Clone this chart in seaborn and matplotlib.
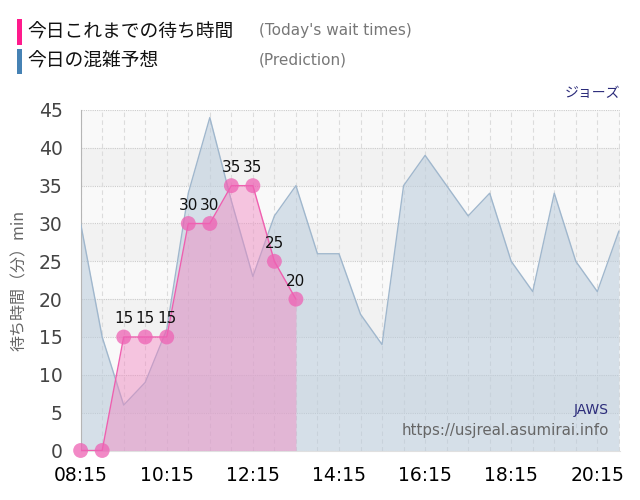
import numpy as np
import matplotlib.pyplot as plt
import seaborn as sns
from matplotlib.patches import Rectangle

# prediction (every 30 min from 08:15 to 20:45)
pred_times = ['08:15', '08:45', '09:15', '09:45', '10:15', '10:45', '11:15', '11:45',
              '12:15', '12:45', '13:15', '13:45', '14:15', '14:45', '15:15', '15:45',
              '16:15', '16:45', '17:15', '17:45', '18:15', '18:45', '19:15', '19:45',
              '20:15', '20:45']
pred_values = [30, 15, 6, 9, 16, 34, 44, 33, 23, 31, 35, 26, 26, 18, 14, 35,
               39, 35, 31, 34, 25, 21, 34, 25, 21, 29]

# today's actual wait times
wait_times = ['08:15', '08:45', '09:15', '09:45', '10:15', '10:45', '11:15',
              '11:45', '12:15', '12:45', '13:15']
wait_values = [0, 0, 15, 15, 15, 30, 30, 35, 35, 25, 20]

tick_labels = ['08:15', '10:15', '12:15', '14:15', '16:15', '18:15', '20:15']
y_ticks = [0, 5, 10, 15, 20, 25, 30, 35, 40, 45]


def to_hours(s):
    h, m = s.split(':')
    return int(h) + int(m) / 60


px = np.array([to_hours(t) for t in pred_times])
wx = np.array([to_hours(t) for t in wait_times])
tx = [to_hours(t) for t in tick_labels]

sns.set_style('white')
plt.rcParams['font.family'] = ['DejaVu Sans', 'Noto Sans CJK JP']
jp = ['Noto Sans CJK JP', 'DejaVu Sans']

fig = plt.figure(figsize=(6.4, 5.0), dpi=100)
ax = fig.add_axes([0.126, 0.099, 0.843, 0.681])

# alternating background bands
for lo in range(0, 45, 5):
    band = '#f9f9f9' if (lo // 5) % 2 == 0 else '#f2f2f2'
    ax.axhspan(lo, lo + 5, color=band, zorder=0, lw=0)

# grid
for v in y_ticks:
    ax.axhline(v, color='#cccccc', lw=0.8, ls=(0, (1, 1)), zorder=1)
for h in np.arange(8.25, 20.8, 0.5):
    ax.axvline(h, color='#dcdcdc', lw=0.8, ls=(0, (4, 3)), zorder=1)

# prediction area
ax.fill_between(px, pred_values, 0, color='#b9cbdb', alpha=0.55, lw=0, zorder=2)
sns.lineplot(x=px, y=pred_values, color='#a0b7cd', lw=1.0, ax=ax, zorder=3)

# actual wait times
ax.fill_between(wx, wait_values, 0, color='#f285c0', alpha=0.45, lw=0, zorder=4)
sns.lineplot(x=wx, y=wait_values, color='#ef5faf', lw=1.0, ax=ax, zorder=5)
sns.scatterplot(x=wx, y=wait_values, color='#ee62b4', alpha=0.75, s=115,
                edgecolor='none', ax=ax, zorder=6, clip_on=False)
for x, v in zip(wx, wait_values):
    if v > 0:
        ax.text(x, v + 2.4, str(v), ha='center', va='center', fontsize=11,
                color='#111111', zorder=7)

ax.set_xlim(8.25, 20.78)
ax.set_ylim(0, 45)
ax.set_xticks(tx)
ax.set_xticklabels(tick_labels, fontsize=13.5, color='black')
ax.set_yticks(y_ticks)
ax.set_yticklabels([str(v) for v in y_ticks], fontsize=13.5, color='#444444')
ax.tick_params(axis='y', length=11, color='#dddddd', width=1, pad=2)
ax.tick_params(axis='x', length=10, color='#dddddd', width=1, pad=1)
for side in ['top', 'right']:
    ax.spines[side].set_visible(False)
ax.spines['left'].set_color('#b5b5b5')
ax.spines['bottom'].set_color('#e0e0e0')
ax.set_xlabel('')
ax.set_ylabel('')

fig.text(19 / 640, 1 - 280 / 500, '待ち時間（分）min', rotation=90, ha='center',
         va='center', fontsize=11.5, color='#666666', family=jp)

# header legend
fig.add_artist(Rectangle((17 / 640, 1 - 45 / 500), 5 / 640, 26 / 500,
                         transform=fig.transFigure, color='#ff1a8c', lw=0))
fig.add_artist(Rectangle((17 / 640, 1 - 74 / 500), 5 / 640, 25 / 500,
                         transform=fig.transFigure, color='#4682b4', lw=0))
fig.text(27 / 640, 1 - 32 / 500, '今日これまでの待ち時間', fontsize=13.5, va='center',
         color='#111111', family=jp)
fig.text(27 / 640, 1 - 61 / 500, '今日の混雑予想', fontsize=13.5, va='center',
         color='#111111', family=jp)
fig.text(259 / 640, 1 - 31 / 500, "(Today's wait times)", fontsize=11, va='center',
         color='#777777')
fig.text(259 / 640, 1 - 60 / 500, '(Prediction)', fontsize=11, va='center',
         color='#777777')

fig.text(620 / 640, 1 - 93 / 500, 'ジョーズ', fontsize=10, ha='right', va='center',
         color='#2b2b7a', family=jp)
fig.text(609 / 640, 1 - 410 / 500, 'JAWS', fontsize=10, ha='right', va='center',
         color='#2b2b7a')
fig.text(609 / 640, 1 - 431 / 500, 'https://usjreal.asumirai.info', fontsize=10.8,
         ha='right', va='center', color='#666666')

fig.savefig('out.png', dpi=100)
